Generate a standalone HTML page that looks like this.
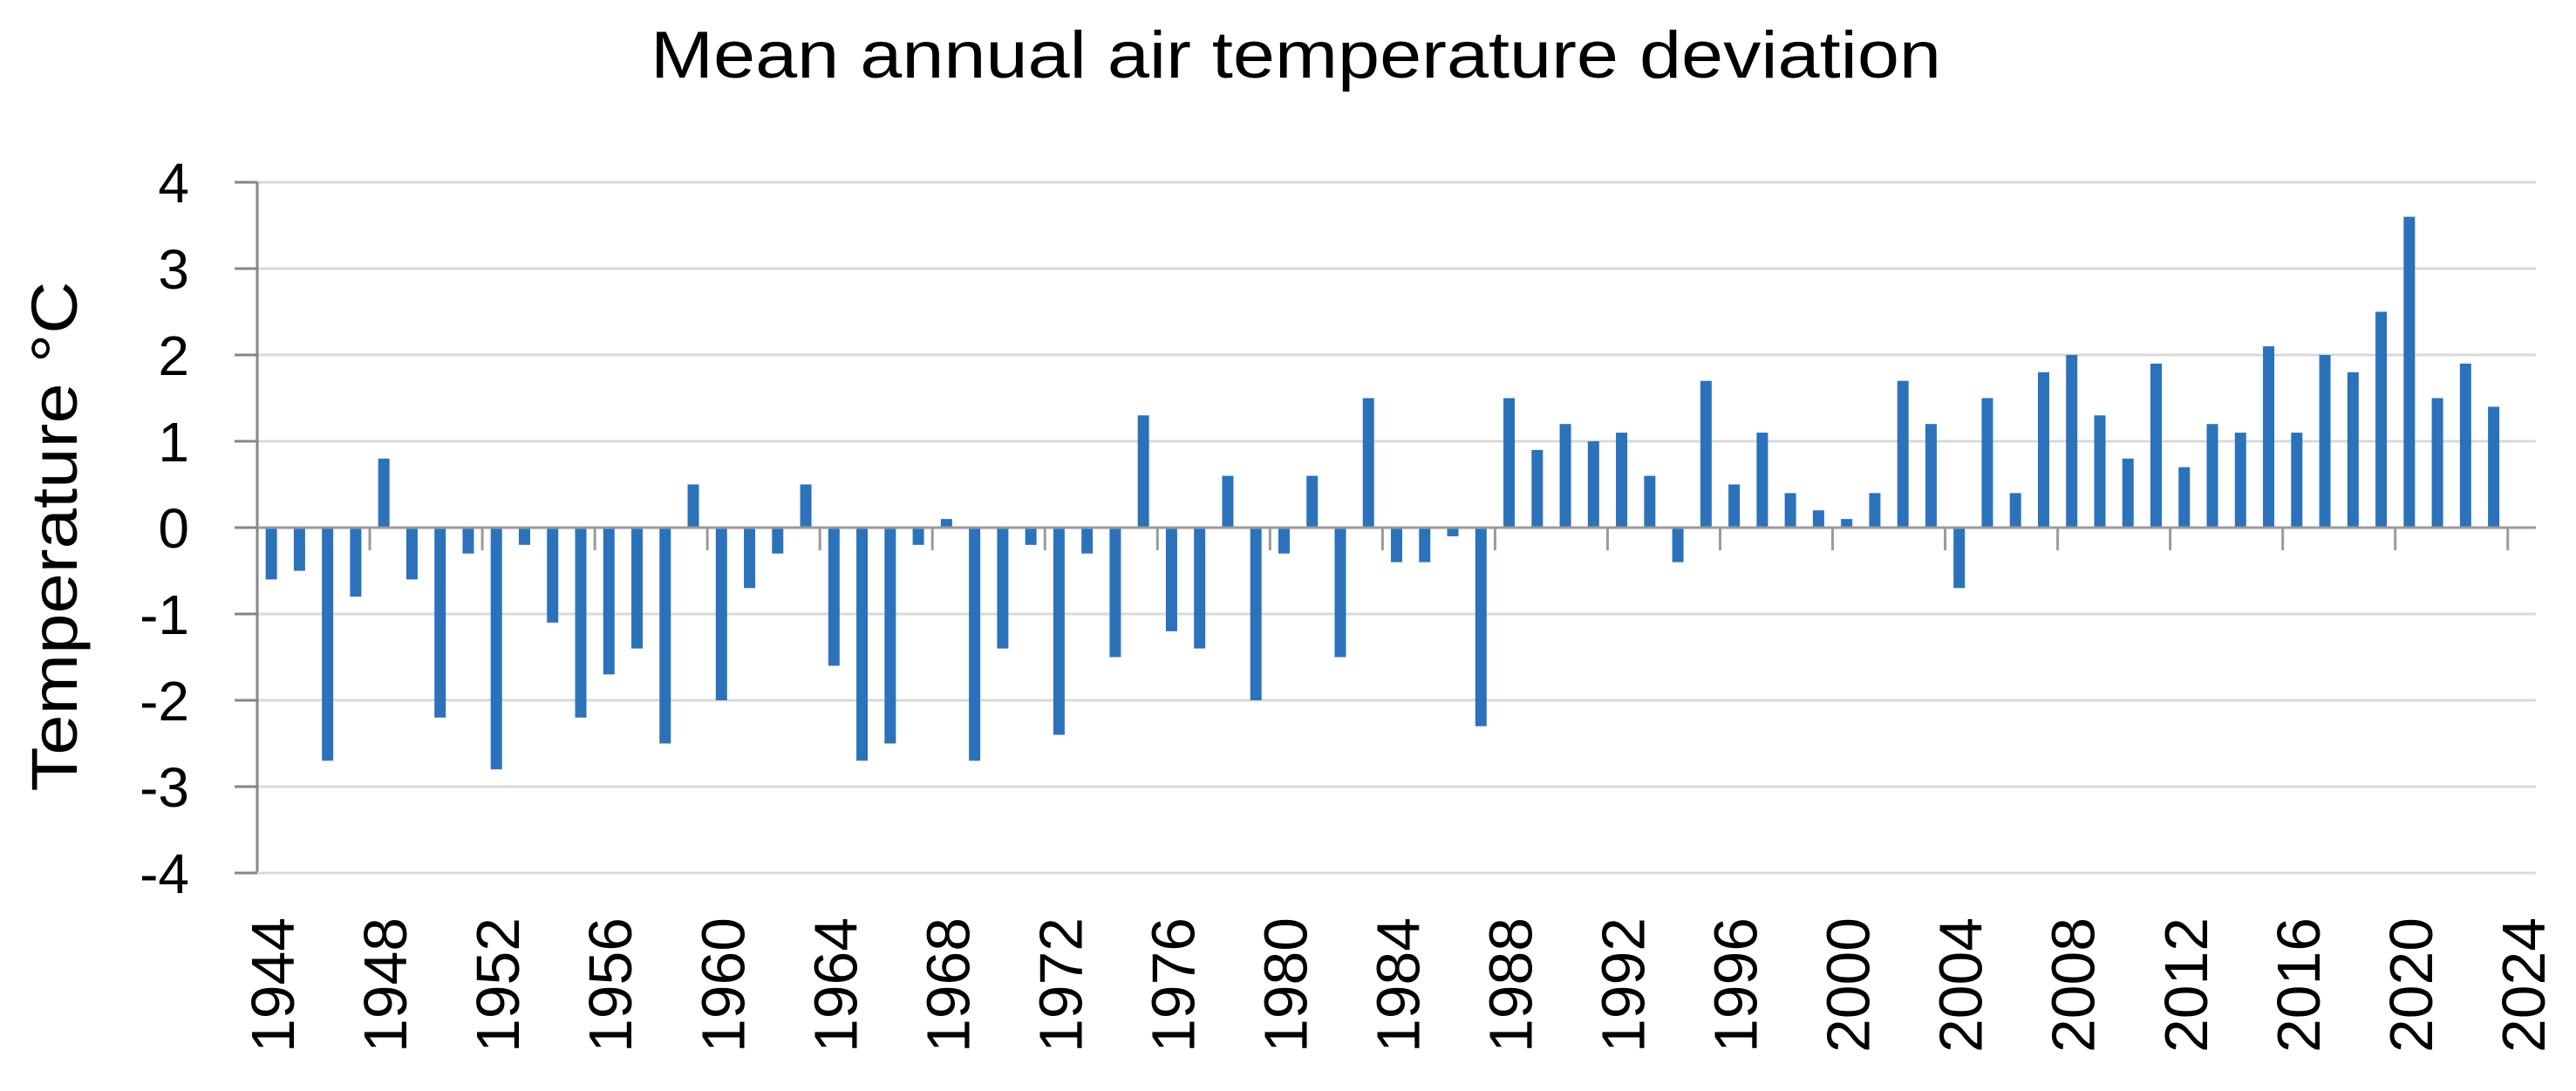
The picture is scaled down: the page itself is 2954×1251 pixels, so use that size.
<!DOCTYPE html>
<html><head><meta charset="utf-8"><style>
html,body{margin:0;padding:0;background:#fff;}
svg{display:block;font-family:"Liberation Sans",sans-serif;}
</style></head><body>
<svg id="chart" width="2954" height="1251" viewBox="0 0 2954 1251" xmlns="http://www.w3.org/2000/svg">
<text x="1486" y="89" font-size="76" text-anchor="middle" textLength="1480" lengthAdjust="spacingAndGlyphs" fill="#000">Mean annual air temperature deviation</text>
<text transform="translate(88,615) rotate(-90)" font-size="74" text-anchor="middle" textLength="585" lengthAdjust="spacingAndGlyphs" fill="#000">Temperature °C</text>
<g id="grid"></g>
<g id="bars"></g>
<g id="axes"></g>
<g id="labels"></g>
</svg>
<script>
const years = [];
for (let y = 1944; y <= 2024; y++) years.push(y);
const values = [-0.6,-0.5,-2.7,-0.8,0.8,-0.6,-2.2,-0.3,-2.8,-0.2,-1.1,-2.2,-1.7,-1.4,-2.5,0.5,-2.0,-0.7,-0.3,0.5,
-1.6,-2.7,-2.5,-0.2,0.1,-2.7,-1.4,-0.2,-2.4,-0.3,-1.5,1.3,-1.2,-1.4,0.6,-2.0,-0.3,0.6,-1.5,1.5,
-0.4,-0.4,-0.1,-2.3,1.5,0.9,1.2,1.0,1.1,0.6,-0.4,1.7,0.5,1.1,0.4,0.2,0.1,0.4,1.7,1.2,
-0.7,1.5,0.4,1.8,2.0,1.3,0.8,1.9,0.7,1.2,1.1,2.1,1.1,2.0,1.8,2.5,3.6,1.5,1.9,1.4,null];
const yTicks = [4,3,2,1,0,-1,-2,-3,-4];
const xLabelYears = [1944,1948,1952,1956,1960,1964,1968,1972,1976,1980,1984,1988,1992,1996,2000,2004,2008,2012,2016,2020,2024];

const NS = "http://www.w3.org/2000/svg";
const X0 = 295, X1 = 2908, Y4 = 209, UNIT = 99;
const band = (X1 - X0) / years.length;
const yScale = v => Y4 + (4 - v) * UNIT;
const xCenter = i => X0 + band * (i + 0.5);
function mk(tag, attrs, parent) {
  const e = document.createElementNS(NS, tag);
  for (const k in attrs) e.setAttribute(k, attrs[k]);
  parent.appendChild(e);
  return e;
}
const grid = document.getElementById('grid');
const bars = document.getElementById('bars');
const axes = document.getElementById('axes');
const labels = document.getElementById('labels');

yTicks.forEach(t => {
  const y = yScale(t);
  if (t !== 0) {
    const g = mk('line', {x1: X0, x2: X1, y1: y, y2: y, stroke: '#d9d9d9', 'stroke-width': 3}, grid);
    
    
  }
  const tk = mk('line', {x1: X0 - 26, x2: X0, y1: y, y2: y, stroke: '#868686', 'stroke-width': 3}, axes);
  
  
  const lb = mk('text', {x: 217, y: y + 23, 'font-size': 64, 'text-anchor': 'end', fill: '#000'}, labels);
  lb.textContent = String(t);
  
  
});

const bw = 13;
values.forEach((v, i) => {
  if (v === null) return;
  const y0 = yScale(0), y1 = yScale(v);
  const r = mk('rect', {x: xCenter(i) - bw / 2, y: Math.min(y0, y1), width: bw, height: Math.abs(y1 - y0), fill: '#2b72bb'}, bars);
  
  
});

const ya = mk('line', {x1: X0, x2: X0, y1: yScale(4), y2: yScale(-4), stroke: '#868686', 'stroke-width': 3}, axes);


const za = mk('line', {x1: X0, x2: X1, y1: yScale(0), y2: yScale(0), stroke: '#9a9a9a', 'stroke-width': 3}, axes);


const ba = mk('line', {x1: X0, x2: X1, y1: yScale(-4), y2: yScale(-4), stroke: '#d9d9d9', 'stroke-width': 3}, axes);



for (let i = 4; i <= years.length; i += 4) {
  const x = X0 + band * i;
  const t = mk('line', {x1: x, x2: x, y1: yScale(0), y2: yScale(0) + 26, stroke: '#9a9a9a', 'stroke-width': 3}, axes);
  
  
}

xLabelYears.forEach(yr => {
  const i = years.indexOf(yr);
  const x = xCenter(i) + 26;
  const t = mk('text', {transform: 'translate(' + x + ',1052) rotate(-90)', 'font-size': 70, 'text-anchor': 'end', textLength: 155, lengthAdjust: 'spacingAndGlyphs', fill: '#000'}, labels);
  t.textContent = String(yr);
  
  
});
</script>
</body></html>
